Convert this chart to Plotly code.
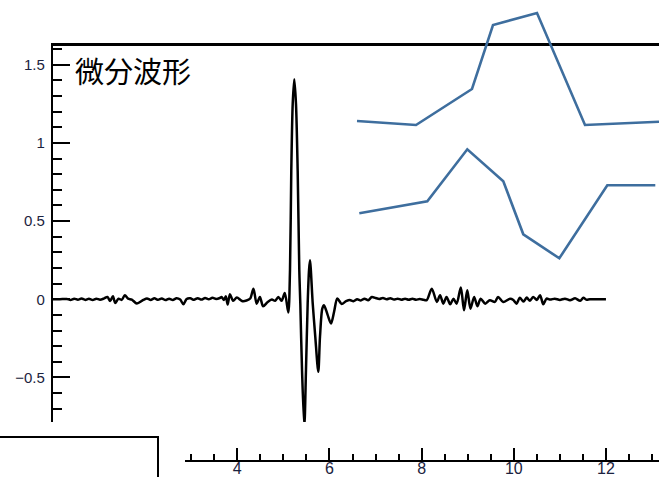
import plotly.graph_objects as go

# ---- data -------------------------------------------------------------
# differentiated waveform (time, amplitude)
wave_t = [
    0.00, 0.15, 0.30, 0.38, 0.46, 0.54, 0.62, 0.70, 0.78, 0.86, 0.94, 1.02, 1.10,
    1.18, 1.24, 1.30, 1.35, 1.42, 1.49, 1.56, 1.63, 1.71, 1.82, 1.96,
    2.04, 2.12, 2.20, 2.28, 2.36, 2.44, 2.52, 2.60, 2.68, 2.76, 2.83, 2.90, 2.98,
    3.06, 3.14, 3.22, 3.30, 3.38, 3.46, 3.54, 3.62,
    3.66, 3.71, 3.75, 3.79, 3.84, 3.91, 3.99, 4.10, 4.20, 4.28, 4.35, 4.42, 4.49,
    4.56, 4.66, 4.75, 4.82, 4.89, 4.96, 5.03, 5.106,
    5.143, 5.171, 5.202, 5.236, 5.273, 5.310, 5.345, 5.367, 5.404, 5.454, 5.490,
    5.527, 5.556, 5.577, 5.636, 5.692, 5.757, 5.794, 5.844, 5.881, 5.96, 6.033,
    6.10, 6.170, 6.265,
    6.36, 6.44, 6.52, 6.60, 6.68, 6.76, 6.84, 6.92, 7.00, 7.08, 7.16, 7.24, 7.32,
    7.40, 7.48, 7.56, 7.64, 7.72, 7.80, 7.88, 7.96, 8.04,
    8.11, 8.22, 8.33, 8.40, 8.47, 8.54, 8.62, 8.69, 8.76, 8.85, 8.92, 8.99, 9.06,
    9.14, 9.21, 9.28, 9.38, 9.48, 9.59, 9.66, 9.77, 9.92,
    9.99, 10.06, 10.13, 10.21, 10.28, 10.35, 10.42, 10.50, 10.57, 10.64, 10.71,
    10.79, 10.89, 11.00, 11.11, 11.22, 11.33, 11.44, 11.51, 11.57, 11.65, 11.80,
    12.00,
]
wave_v = [
    0.000, 0.000, 0.002, -0.004, 0.004, -0.003, 0.005, -0.004, 0.003, -0.005, 0.004, -0.003, 0.004,
    0.015, -0.011, 0.019, -0.024, 0.004, -0.004, 0.026, 0.004, -0.002, -0.027, -0.004,
    0.005, -0.004, 0.006, -0.003, 0.005, -0.005, 0.004, -0.004, 0.006, -0.002, -0.032, 0.002, 0.006,
    -0.003, 0.007, -0.002, 0.008, 0.000, 0.009, 0.002, 0.008,
    0.015, -0.005, 0.020, -0.034, 0.032, -0.010, 0.011, -0.011, -0.008, 0.005, 0.068, -0.028, 0.015,
    -0.045, -0.017, -0.002, -0.010, 0.015, -0.010, 0.040, -0.085,
    0.185, 0.820, 1.250, 1.408, 1.250, 0.820, 0.185, -0.026, -0.453, -0.815, -0.453,
    -0.026, 0.185, 0.249, -0.026, -0.240, -0.464, -0.240, -0.060, -0.038, -0.100, -0.155,
    -0.080, 0.005, -0.030,
    -0.012, -0.004, -0.012, 0.000, -0.008, 0.004, -0.006, 0.015, 0.008, 0.002, 0.008, 0.000, 0.006,
    -0.002, 0.004, -0.003, 0.003, -0.003, 0.003, -0.003, 0.002, -0.003,
    -0.006, 0.068, -0.017, 0.026, -0.028, 0.015, -0.032, 0.004, -0.028, 0.075, -0.070, 0.057, -0.060,
    0.015, -0.045, 0.004, -0.028, -0.006, -0.017, 0.015, -0.017, 0.004,
    -0.004, -0.028, 0.010, -0.015, 0.011, -0.010, 0.015, -0.004, 0.026, -0.032, 0.004,
    -0.002, 0.004, -0.004, 0.004, -0.006, 0.006, -0.010, 0.010, -0.002, 0.000, 0.000,
    0.000,
]

# two small pulse sketches
pulse_a_t = [0.0, 5.9, 11.5, 13.6, 18.0, 22.8, 30.2]
pulse_a_v = [0.4, 0.0, 3.6, 10.0, 11.2, 0.0, 0.33]
pulse_b_t = [0.0, 6.8, 10.8, 14.4, 16.4, 20.0, 24.8, 29.6]
pulse_b_v = [4.5, 5.7, 10.9, 7.7, 2.4, 0.0, 7.3, 7.3]

y_ticks = [-0.5, 0, 0.5, 1, 1.5]
y_tick_text = ["\u22120.5", "0", "0.5", "1", "1.5"]
x_ticks = [4, 6, 8, 10, 12]
title_text = "微分波形"

# ---- layout helpers (pixel boxes -> paper fractions) -------------------
W, H = 659, 477


def xdom(left, right):
    return [left / W, right / W]


def ydom(top, bottom):
    return [1 - bottom / H, 1 - top / H]


BLUE = "#3e6e9e"
Y_FONT = dict(family="Liberation Sans, Arial, sans-serif", size=15, color="#1b2340")
X_FONT = dict(family="Liberation Sans, Arial, sans-serif", size=16, color="#1b2340")

fig = go.Figure()

fig.add_trace(go.Scatter(
    x=wave_t, y=wave_v, mode="lines",
    line=dict(color="black", width=2.5, shape="spline", smoothing=0.8),
    xaxis="x", yaxis="y", hoverinfo="skip", showlegend=False,
))
# carrier for the lower time axis
fig.add_trace(go.Scatter(
    x=x_ticks, y=[None] * len(x_ticks), mode="lines",
    xaxis="x2", yaxis="y", hoverinfo="skip", showlegend=False,
))
fig.add_trace(go.Scatter(
    x=pulse_a_t, y=pulse_a_v, mode="lines",
    line=dict(color=BLUE, width=2.6),
    xaxis="x3", yaxis="y3", hoverinfo="skip", showlegend=False,
))
fig.add_trace(go.Scatter(
    x=pulse_b_t, y=pulse_b_v, mode="lines",
    line=dict(color=BLUE, width=2.6),
    xaxis="x4", yaxis="y4", hoverinfo="skip", showlegend=False,
))

px_per_unit = 46.08
x_left_px = 53
x_max = (W - x_left_px) / px_per_unit

fig.update_layout(
    width=W, height=H,
    margin=dict(l=0, r=0, t=0, b=0, autoexpand=False),
    paper_bgcolor="white",
    plot_bgcolor="rgba(0,0,0,0)",
    showlegend=False,
    xaxis=dict(
        domain=xdom(x_left_px, W), range=[0, x_max], anchor="y", side="top",
        showline=True, linecolor="black", linewidth=2.5, automargin=False,
        ticks="", showticklabels=False, showgrid=False, zeroline=False,
    ),
    yaxis=dict(
        domain=ydom(46, 422), range=[-0.785, 1.62], anchor="x",
        showline=True, linecolor="black", linewidth=2.2, automargin=False,
        tickmode="array", tickvals=y_ticks, ticktext=y_tick_text,
        ticks="inside", ticklen=17, tickwidth=2, tickcolor="black",
        minor=dict(ticks="inside", ticklen=9, tickwidth=2, tickcolor="black", dtick=0.1, tick0=0),
        tickfont=Y_FONT, ticklabelstandoff=3, showgrid=False, zeroline=False,
    ),
    xaxis2=dict(
        domain=xdom(185, W), range=[(185 - x_left_px) / px_per_unit, x_max],
        anchor="free", position=1 - 461 / H, automargin=False,
        showline=True, linecolor="black", linewidth=2,
        tickmode="array", tickvals=x_ticks,
        ticks="inside", ticklen=12, tickwidth=1.5, tickcolor="black",
        minor=dict(ticks="inside", ticklen=6, tickwidth=1.5, tickcolor="black", dtick=0.5, tick0=0),
        tickfont=X_FONT, ticklabelstandoff=-7, showgrid=False, zeroline=False,
    ),
    xaxis3=dict(domain=xdom(350, W), range=[-0.7, 30.2], anchor="y3", visible=False, automargin=False),
    yaxis3=dict(domain=ydom(8, 132), range=[-0.7, 11.7], anchor="x3", visible=False, automargin=False),
    xaxis4=dict(domain=xdom(352, W), range=[-0.73, 29.97], anchor="y4", visible=False, automargin=False),
    yaxis4=dict(domain=ydom(142, 266), range=[-0.77, 11.63], anchor="x4", visible=False, automargin=False),
    annotations=[dict(
        text=title_text, xref="paper", yref="paper",
        x=73 / W, y=1 - 70 / H, xanchor="left", yanchor="middle", showarrow=False,
        font=dict(family="Noto Sans CJK JP, Noto Sans CJK SC, sans-serif", size=29, color="black"),
    )],
    shapes=[dict(
        type="rect", xref="paper", yref="paper",
        x0=-0.01, x1=158 / W, y0=-0.02, y1=1 - 437 / H,
        line=dict(color="black", width=2), fillcolor="rgba(0,0,0,0)",
    )],
)

fig.write_html("out.html")
